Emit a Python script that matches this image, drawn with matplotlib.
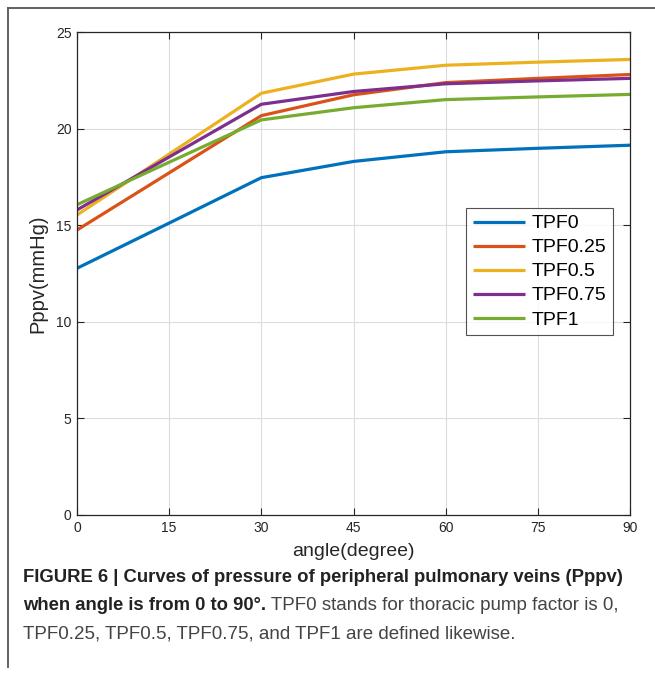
import matplotlib
matplotlib.use("Agg")
import matplotlib.pyplot as plt
from matplotlib.lines import Line2D

# angle in degrees, pressure in mmHg
angles = [0, 15, 30, 45, 60, 75, 90]
tpf0 = [12.77, 15.11, 17.46, 18.30, 18.80, 18.98, 19.14]
tpf025 = [14.75, 17.71, 20.67, 21.75, 22.38, 22.60, 22.80]
tpf05 = [15.53, 18.68, 21.83, 22.82, 23.28, 23.44, 23.58]
tpf075 = [15.79, 18.53, 21.26, 21.92, 22.32, 22.47, 22.60]
tpf1 = [16.06, 18.26, 20.45, 21.08, 21.50, 21.64, 21.77]

series_names = ["TPF0", "TPF0.25", "TPF0.5", "TPF0.75", "TPF1"]
series_values = [tpf0, tpf025, tpf05, tpf075, tpf1]
colors = ["#0072BD", "#D95319", "#EDB120", "#7E2F8E", "#77AC30"]

x_ticks = [0, 15, 30, 45, 60, 75, 90]
y_ticks = [0, 5, 10, 15, 20, 25]

caption_bold_1 = "FIGURE 6 | Curves of pressure of peripheral pulmonary veins (Pppv)"
caption_bold_2 = "when angle is from 0 to 90°."
caption_reg_2 = " TPF0 stands for thoracic pump factor is 0,"
caption_reg_3 = "TPF0.25, TPF0.5, TPF0.75, and TPF1 are defined likewise."

plt.rcParams['font.family'] = ['Liberation Sans', 'DejaVu Sans']

fig = plt.figure(figsize=(6.55, 6.75), dpi=100)
ax = fig.add_axes([77 / 655, 160 / 675, 553 / 655, 483 / 675])

for name, vals, c in zip(series_names, series_values, colors):
    ax.plot(angles, vals, color=c, linewidth=2.3, label=name, solid_capstyle="butt")

ax.set_xlim(0, 90)
ax.set_ylim(0, 25)
ax.set_xticks(x_ticks)
ax.set_yticks(y_ticks)
ax.grid(True, color="#dcdcdc", linewidth=0.8)
ax.set_axisbelow(True)
ax.tick_params(direction="in", top=True, right=True, length=5, width=0.8,
               labelsize=10, colors="#262626", pad=4)
for sp in ax.spines.values():
    sp.set_color("#262626")
    sp.set_linewidth(0.9)

ax.set_xlabel("angle(degree)", fontsize=14, color="#262626", labelpad=6)
ax.set_ylabel("Pppv(mmHg)", fontsize=14.5, color="#262626", labelpad=6)

leg = ax.legend(loc="upper left", bbox_to_anchor=((466 - 77) / 553, (515 - 208) / 483),
                fontsize=14, frameon=True, fancybox=False, handlelength=2.7,
                handletextpad=0.3, borderpad=0.35, labelspacing=0.33, borderaxespad=0)
leg.get_frame().set_edgecolor("#262626")
leg.get_frame().set_linewidth(0.8)

# frame of the figure panel
fig.add_artist(Line2D([8 / 655, 8 / 655], [1 - 8 / 675, 1 - 667 / 675],
                      color="#555555", linewidth=1.3, transform=fig.transFigure))
fig.add_artist(Line2D([8 / 655, 1.0], [1 - 8 / 675, 1 - 8 / 675],
                      color="#555555", linewidth=1.3, transform=fig.transFigure))

fig.text(23 / 655, 1 - 578 / 675, caption_bold_1,
         fontsize=13.3, fontweight="bold", color="#222222", va="center")
t2 = fig.text(23 / 655, 1 - 606 / 675, caption_bold_2,
              fontsize=13.3, fontweight="bold", color="#222222", va="center")
fig.canvas.draw()
bb = t2.get_window_extent()
fig.text(bb.x1 / fig.bbox.width, 1 - 606 / 675, caption_reg_2,
         fontsize=13.5, color="#444444", va="center")
fig.text(23 / 655, 1 - 634 / 675, caption_reg_3,
         fontsize=13.5, color="#444444", va="center")

fig.savefig("out.png", dpi=100)
